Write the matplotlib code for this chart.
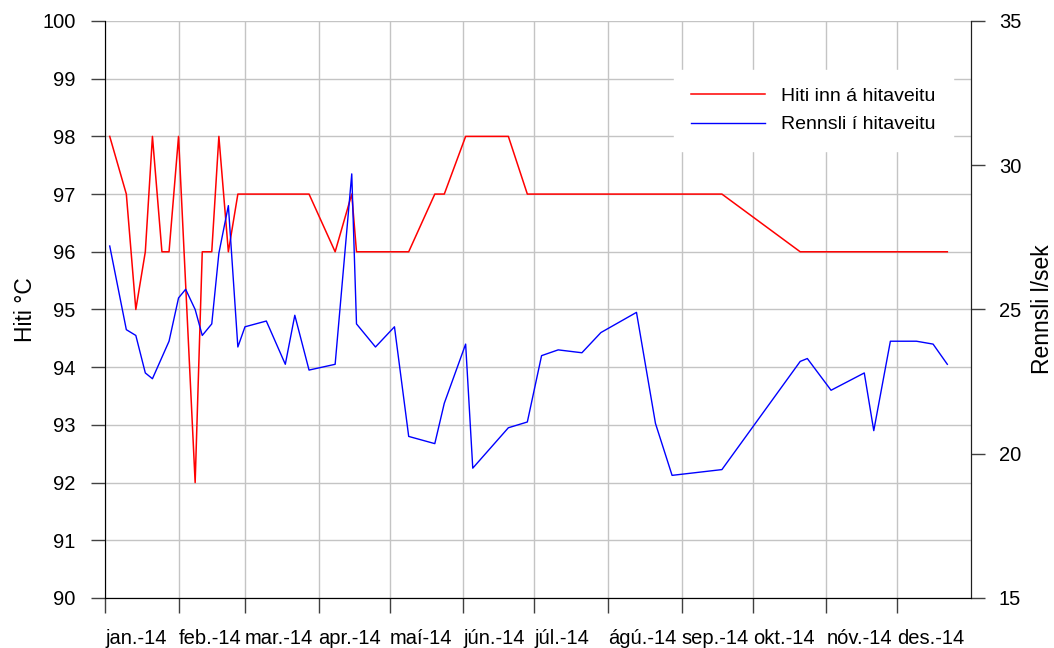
import pandas as pd
import matplotlib
matplotlib.use("Agg")
import matplotlib.pyplot as plt

plt.rcParams["font.family"] = ["Liberation Sans", "DejaVu Sans"]

# -----------------------------
# DATA
# -----------------------------

# Hiti inn á hitaveitu (°C)
hiti_dates = ["2014-01-03", "2014-01-10", "2014-01-14", "2014-01-18", "2014-01-21",
              "2014-01-25", "2014-01-28", "2014-02-01", "2014-02-08", "2014-02-11",
              "2014-02-15", "2014-02-18", "2014-02-22", "2014-02-26", "2014-03-28",
              "2014-04-08", "2014-04-15", "2014-04-17", "2014-05-09", "2014-05-20",
              "2014-05-24", "2014-06-02", "2014-06-20", "2014-06-28", "2014-09-18",
              "2014-10-21", "2014-12-22"]
hiti = [98, 97, 95, 96, 98,
        96, 96, 98, 92, 96,
        96, 98, 96, 97, 97,
        96, 97, 96, 96, 97,
        97, 98, 98, 97, 97,
        96, 96]

# Rennsli í hitaveitu (l/sek)
rennsli_dates = ["2014-01-03", "2014-01-10", "2014-01-14", "2014-01-18", "2014-01-21",
                 "2014-01-28", "2014-02-01", "2014-02-04", "2014-02-08", "2014-02-11",
                 "2014-02-15", "2014-02-18", "2014-02-22", "2014-02-26", "2014-03-01",
                 "2014-03-10", "2014-03-18", "2014-03-22", "2014-03-28", "2014-04-08",
                 "2014-04-15", "2014-04-17", "2014-04-25", "2014-05-03", "2014-05-09",
                 "2014-05-20", "2014-05-24", "2014-06-02", "2014-06-05", "2014-06-20",
                 "2014-06-28", "2014-07-04", "2014-07-11", "2014-07-21", "2014-07-29",
                 "2014-08-13", "2014-08-21", "2014-08-28", "2014-09-18", "2014-10-21",
                 "2014-10-24", "2014-11-03", "2014-11-17", "2014-11-21", "2014-11-28",
                 "2014-12-09", "2014-12-16", "2014-12-22"]
rennsli = [27.2, 24.3, 24.1, 22.8, 22.6,
           23.9, 25.4, 25.7, 25.0, 24.1,
           24.5, 26.95, 28.6, 23.7, 24.4,
           24.6, 23.1, 24.8, 22.9, 23.1,
           29.7, 24.5, 23.7, 24.4, 20.6,
           20.35, 21.75, 23.8, 19.5, 20.9,
           21.1, 23.4, 23.6, 23.5, 24.2,
           24.9, 21.05, 19.25, 19.45, 23.2,
           23.3, 22.2, 22.8, 20.8, 23.9,
           23.9, 23.8, 23.1]

month_labels = ["jan.-14", "feb.-14", "mar.-14", "apr.-14", "maí-14", "jún.-14",
                "júl.-14", "ágú.-14", "sep.-14", "okt.-14", "nóv.-14", "des.-14"]

hiti_x = pd.to_datetime(hiti_dates)
rennsli_x = pd.to_datetime(rennsli_dates)
month_ticks = pd.date_range("2014-01-01", periods=12, freq="MS")

# -----------------------------
# PLOT
# -----------------------------

fig = plt.figure(figsize=(10.54, 6.48), dpi=100)
ax = fig.add_axes([0.0996, 0.0772, 0.8217, 0.8904])
ax2 = ax.twinx()

ax.grid(True, color="#c4c4c4", linewidth=1.0)
ax.set_axisbelow(True)

l1, = ax.plot(hiti_x, hiti, color="#ff0000", linewidth=1.1, label="Hiti inn á hitaveitu")
l2, = ax2.plot(rennsli_x, rennsli, color="#0000ff", linewidth=1.0, label="Rennsli í hitaveitu")

ax.set_xlim(pd.Timestamp("2014-01-01"), pd.Timestamp("2015-01-01"))
ax.set_ylim(90, 100)
ax.set_yticks(range(90, 101))
ax2.set_ylim(15, 35)
ax2.set_yticks([15, 20, 25, 30, 35])

ax.set_xticks(month_ticks)
ax.set_xticklabels(month_labels, ha="left")

for a in (ax, ax2):
    a.spines["top"].set_visible(False)

ax.spines["left"].set_color("#606060")
ax.spines["bottom"].set_color("#202020")
ax2.spines["right"].set_color("#202020")

ax.tick_params(axis="y", length=10, width=1, color="#404040", pad=11, labelsize=14.5)
ax.tick_params(axis="x", length=10.5, width=1, color="#404040", pad=12, labelsize=14.5)
ax2.tick_params(axis="y", length=10, width=1, color="#404040", pad=10, labelsize=14.5)

ax.set_ylabel("Hiti °C", fontsize=16.5, labelpad=4)
ax2.set_ylabel("Rennsli l/sek", fontsize=16.5, labelpad=7)

leg = ax2.legend(handles=[l1, l2], loc="upper right", bbox_to_anchor=(0.979, 0.915),
                 borderaxespad=0, frameon=True, fancybox=False, framealpha=1,
                 edgecolor="white", facecolor="white", fontsize=14,
                 handlelength=3.8, handletextpad=0.8, labelspacing=0.55,
                 borderpad=0.9)

plt.savefig("out.png", dpi=100)
plt.close()
